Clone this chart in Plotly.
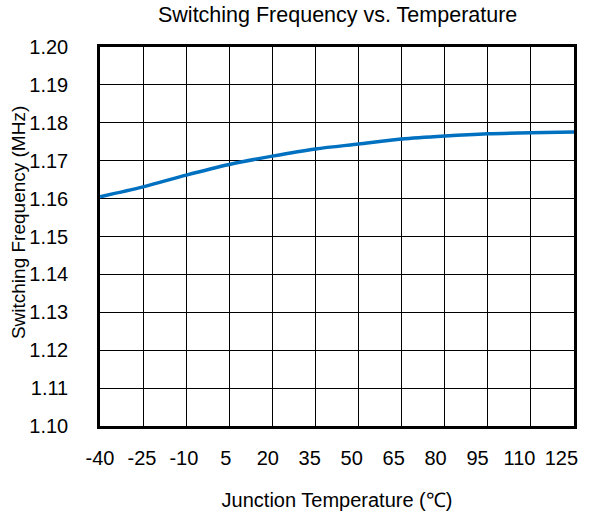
import plotly.graph_objects as go

temps = [-40, -25, -10, 5, 20, 35, 50, 65, 80, 95, 110, 125]
freq_mhz = [1.1605, 1.1631, 1.1662, 1.1690, 1.1712, 1.1731, 1.1744, 1.1757, 1.1765, 1.1771, 1.1774, 1.1776]
x_ticks = [-40, -25, -10, 5, 20, 35, 50, 65, 80, 95, 110, 125]
y_ticks = [1.10, 1.11, 1.12, 1.13, 1.14, 1.15, 1.16, 1.17, 1.18, 1.19, 1.20]

FONT = "Liberation Sans, Arial, sans-serif"

fig = go.Figure()
fig.add_trace(go.Scatter(
    x=temps, y=freq_mhz, mode="lines",
    line=dict(color="#0070C0", width=3.5, shape="spline", smoothing=0.8),
    showlegend=False, hoverinfo="skip",
))
# invisible companion trace so the label axis (x2) is rendered
fig.add_trace(go.Scatter(
    x=temps, y=freq_mhz, xaxis="x2", mode="lines",
    line=dict(color="rgba(0,0,0,0)", width=0), opacity=0,
    showlegend=False, hoverinfo="skip",
))

fig.update_layout(
    width=593, height=516,
    margin=dict(l=100, r=19, t=47, b=90),
    paper_bgcolor="white", plot_bgcolor="white",
    font=dict(family=FONT, size=20, color="black"),
    xaxis=dict(
        range=[-40, 125], tickmode="array", tickvals=x_ticks,
        showticklabels=False, automargin=False,
        showgrid=True, gridcolor="black", gridwidth=1,
        showline=True, linecolor="black", linewidth=2.5, mirror=True,
        ticks="", zeroline=False,
    ),
    xaxis2=dict(
        overlaying="x", anchor="y", side="bottom", automargin=False,
        range=[-40, 129.5], tickmode="array", tickvals=x_ticks,
        ticktext=[str(t) for t in x_ticks],
        showgrid=False, showline=False, zeroline=False, ticks="",
        ticklabelstandoff=18, tickfont=dict(size=20),
        title=dict(text="Junction Temperature (℃)", standoff=24, font=dict(size=20)),
    ),
    yaxis=dict(
        range=[1.10, 1.20], tickmode="array", tickvals=y_ticks,
        ticktext=[f"{v:.2f}" for v in y_ticks], automargin=False,
        showgrid=True, gridcolor="black", gridwidth=1,
        showline=True, linecolor="black", linewidth=2.5, mirror=True,
        ticks="", zeroline=False, ticklabelstandoff=25,
        tickfont=dict(size=20),
    ),
    annotations=[
        dict(text="Switching Frequency vs. Temperature", xref="paper", yref="paper",
             x=0.5, y=1.0845, xanchor="center", yanchor="middle", showarrow=False,
             font=dict(family=FONT, size=21.5, color="black")),
        dict(text="Switching Frequency (MHz)", xref="paper", yref="paper",
             x=-0.173, y=0.538, xanchor="center", yanchor="middle", showarrow=False,
             textangle=-90, font=dict(family=FONT, size=19, color="black")),
    ],
)

fig.write_html("out.html", config={"displayModeBar": False},
               post_script="document.body.style.margin='0px';")
